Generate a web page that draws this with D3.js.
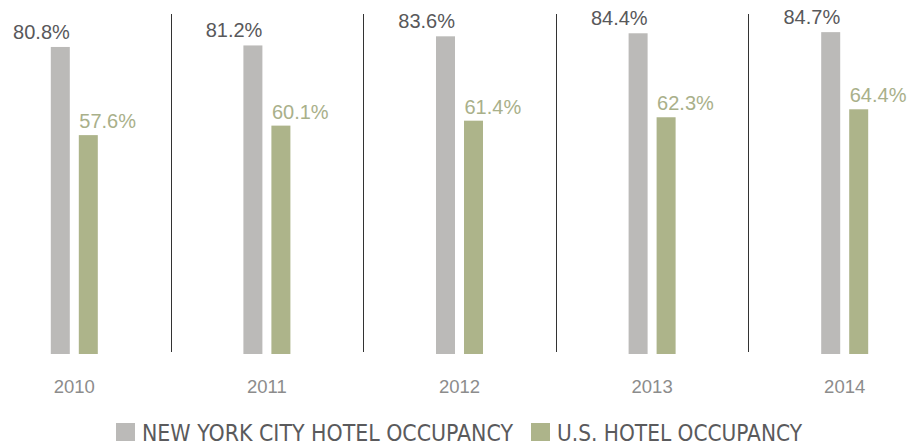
<!DOCTYPE html>
<html>
<head>
<meta charset="utf-8">
<script src="https://cdn.jsdelivr.net/npm/d3@7"></script>
<style>
  html, body { margin: 0; padding: 0; background: #fff; }
  svg { display: block; }
</style>
</head>
<body>
<svg id="chart" width="911" height="445"></svg>
<script>
const years = ["2010", "2011", "2012", "2013", "2014"];
const nycOccupancy = [80.8, 81.2, 83.6, 84.4, 84.7];
const usOccupancy = [57.6, 60.1, 61.4, 62.3, 64.4];
const seriesNames = ["NEW YORK CITY HOTEL OCCUPANCY", "U.S. HOTEL OCCUPANCY"];

const colors = { nyc: "#bbbab8", us: "#adb48a", nycText: "#58585a", usText: "#a9b08a", year: "#8c8c8c", legend: "#5a5a5c", sep: "#333" };

const svg = d3.select("#chart");
const x = d3.scaleBand().domain(years).range([-22, 941]).paddingInner(0).paddingOuter(0);
const y = d3.scaleLinear().domain([0, 100]).range([354, -26]);

const barW = 19;
const numFont = "'Liberation Sans', Arial, sans-serif";
const narrowFont = "'DejaVu Sans Condensed', 'Liberation Sans', sans-serif";

// separators
svg.selectAll("line.sep").data(years.slice(1)).enter().append("line")
  .attr("x1", d => Math.round(x(d)) + 0.5).attr("x2", d => Math.round(x(d)) + 0.5)
  .attr("y1", 14).attr("y2", 352)
  .attr("stroke", colors.sep).attr("stroke-width", 1);

const g = svg.selectAll("g.year").data(years).enter().append("g")
  .attr("transform", d => `translate(${x(d) + x.bandwidth() / 2},0)`);

// NYC bars
g.append("rect")
  .attr("x", -23.5).attr("width", barW)
  .attr("y", (d, i) => y(nycOccupancy[i]))
  .attr("height", (d, i) => y(0) - y(nycOccupancy[i]))
  .attr("fill", colors.nyc);

// US bars
g.append("rect")
  .attr("x", 4.5).attr("width", barW)
  .attr("y", (d, i) => y(usOccupancy[i]))
  .attr("height", (d, i) => y(0) - y(usOccupancy[i]))
  .attr("fill", colors.us);

// NYC labels
g.append("text")
  .attr("x", -4.5).attr("y", (d, i) => y(nycOccupancy[i]) - 8)
  .attr("text-anchor", "end")
  .attr("font-family", numFont).attr("font-size", 20)
  .attr("fill", colors.nycText)
  .text((d, i) => nycOccupancy[i].toFixed(1) + "%");

// US labels
g.append("text")
  .attr("x", 5).attr("y", (d, i) => y(usOccupancy[i]) - 7)
  .attr("text-anchor", "start")
  .attr("font-family", numFont).attr("font-size", 20)
  .attr("fill", colors.usText)
  .text((d, i) => usOccupancy[i].toFixed(1) + "%");

// year labels
g.append("text")
  .attr("x", 0).attr("y", 393)
  .attr("text-anchor", "middle")
  .attr("font-family", numFont).attr("font-size", 18.5)
  .attr("fill", colors.year)
  .text(d => d);

// legend
const legend = [
  { name: seriesNames[0], color: colors.nyc, x: 116, len: 371 },
  { name: seriesNames[1], color: colors.us, x: 531, len: 245 }
];
const lg = svg.selectAll("g.legend").data(legend).enter().append("g")
  .attr("transform", d => `translate(${d.x},0)`);
lg.append("rect").attr("x", 0).attr("y", 423).attr("width", 19).attr("height", 18).attr("fill", d => d.color);
lg.append("text").attr("x", 26).attr("y", 440.5)
  .attr("font-family", narrowFont).attr("font-size", 23)
  .attr("textLength", d => d.len).attr("lengthAdjust", "spacingAndGlyphs")
  .attr("fill", colors.legend)
  .text(d => d.name);
</script>
</body>
</html>
